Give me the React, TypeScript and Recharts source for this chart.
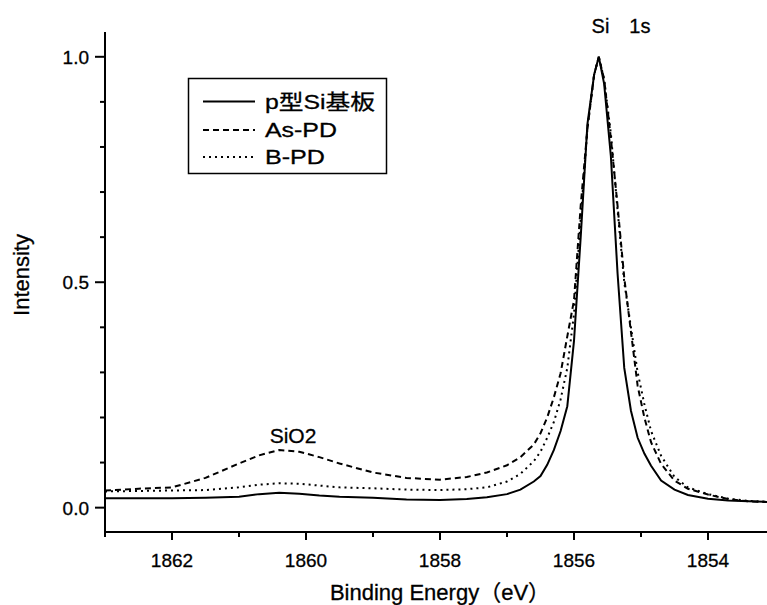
import React from 'react';
import { LineChart, Line, XAxis, YAxis } from 'recharts';

const FONT = "'Liberation Sans', 'Noto Sans CJK JP', sans-serif";

// binding energy grid (eV), high -> low
const energy = [
    1863.0, 1862.5, 1862.0, 1861.5, 1861.0, 1860.7, 1860.4, 1860.1, 1859.8, 1859.5,
    1859.0, 1858.5, 1858.0, 1857.6, 1857.3, 1857.0, 1856.8, 1856.6, 1856.5, 1856.4,
    1856.3, 1856.2, 1856.1, 1856.0, 1855.9, 1855.8, 1855.7, 1855.63, 1855.55, 1855.45,
    1855.35, 1855.25, 1855.15, 1855.05, 1854.95, 1854.85, 1854.7, 1854.5, 1854.3, 1854.0,
    1853.7, 1853.4, 1853.0,
];

const pSi = [
    0.021, 0.021, 0.021, 0.022, 0.024, 0.030, 0.033, 0.031, 0.027, 0.024,
    0.022, 0.018, 0.017, 0.019, 0.023, 0.030, 0.040, 0.058, 0.070, 0.095,
    0.128, 0.170, 0.225, 0.37, 0.60, 0.85, 0.96, 1.0, 0.94, 0.78,
    0.52, 0.31, 0.215, 0.155, 0.12, 0.093, 0.06, 0.04, 0.028, 0.02,
    0.016, 0.014, 0.012,
];

const asPD = [
    0.038, 0.042, 0.045, 0.066, 0.098, 0.116, 0.128, 0.124, 0.112, 0.098,
    0.078, 0.066, 0.062, 0.068, 0.078, 0.094, 0.112, 0.140, 0.165, 0.200,
    0.245, 0.298, 0.38, 0.46, 0.67, 0.84, 0.96, 1.0, 0.95, 0.82,
    0.67, 0.51, 0.39, 0.27, 0.20, 0.145, 0.097, 0.060, 0.042, 0.029,
    0.019, 0.014, 0.012,
];

const bPD = [
    0.036, 0.037, 0.038, 0.039, 0.045, 0.051, 0.054, 0.053, 0.049, 0.045,
    0.043, 0.040, 0.039, 0.041, 0.045, 0.058, 0.075, 0.103, 0.124, 0.155,
    0.19, 0.24, 0.31, 0.43, 0.64, 0.84, 0.96, 1.0, 0.95, 0.83,
    0.66, 0.50, 0.40, 0.30, 0.23, 0.17, 0.115, 0.068, 0.045, 0.030,
    0.020, 0.015, 0.012,
];

const xTicks = [1863, 1862, 1861, 1860, 1859, 1858, 1857, 1856, 1855, 1854, 1853];
const yTicks = [0, 0.1, 0.2, 0.3, 0.4, 0.5, 0.6, 0.7, 0.8, 0.9, 1.0];

const seriesNames = ['p型Si基板', 'As-PD', 'B-PD'];

const data = energy.map((e, i) => ({ e, pSi: pSi[i], asPD: asPD[i], bPD: bPD[i] }));

const XTick = ({ x, y, payload }: any) => {
    const major = payload.value % 2 === 0;
    return (
        <g>
            <line x1={x} x2={x} y1={y} y2={y + (major ? 8 : 5)} stroke="#000" strokeWidth={2} />
            {major && (
                <text x={x} y={y + 35} textAnchor="middle" fontSize={19} fontFamily={FONT} fill="#000" stroke="#000" strokeWidth={0.3}>
                    {payload.value}
                </text>
            )}
        </g>
    );
};

const YTick = ({ x, y, payload }: any) => {
    const v = payload.value;
    const major = Math.abs(v * 2 - Math.round(v * 2)) < 1e-6;
    return (
        <g>
            <line x1={x - (major ? 10 : 5)} x2={x} y1={y} y2={y} stroke="#000" strokeWidth={2} />
            {major && (
                <text x={x - 16} y={y + 7} textAnchor="end" fontSize={19} fontFamily={FONT} fill="#000" stroke="#000" strokeWidth={0.3}>
                    {v.toFixed(1)}
                </text>
            )}
        </g>
    );
};

export default function App() {
    return (
        <div style={{ position: 'absolute', left: 0, top: 0, width: 767, height: 605, overflow: 'hidden', background: '#fff' }}>
            <LineChart
                width={776}
                height={605}
                data={data}
                margin={{ top: 32, right: 1, bottom: 0, left: 0 }}
            >
                <XAxis
                    dataKey="e"
                    type="number"
                    domain={[1853, 1863]}
                    reversed
                    allowDataOverflow
                    ticks={xTicks}
                    interval={0}
                    height={73}
                    tickSize={0}
                    tickMargin={0}
                    tickLine={false}
                    tick={<XTick />}
                    axisLine={{ stroke: '#000', strokeWidth: 2 }}
                />
                <YAxis
                    type="number"
                    domain={[-0.054, 1.055]}
                    allowDataOverflow
                    ticks={yTicks}
                    interval={0}
                    width={105}
                    tickSize={0}
                    tickMargin={0}
                    tickLine={false}
                    tick={<YTick />}
                    axisLine={{ stroke: '#000', strokeWidth: 2 }}
                />
                <Line type="linear" dataKey="pSi" name={seriesNames[0]} stroke="#000" strokeWidth={2} dot={false} isAnimationActive={false} />
                <Line type="linear" dataKey="asPD" name={seriesNames[1]} stroke="#000" strokeWidth={2} strokeDasharray="6 4" dot={false} isAnimationActive={false} />
                <Line type="linear" dataKey="bPD" name={seriesNames[2]} stroke="#000" strokeWidth={2} strokeDasharray="2 4" dot={false} isAnimationActive={false} />
            </LineChart>

            {/* titles, annotations and legend */}
            <svg width={767} height={605} style={{ position: 'absolute', left: 0, top: 0, pointerEvents: 'none' }} fontFamily={FONT} fill="#000" stroke="#000" strokeWidth={0.3}>
                <text x={440} y={600} textAnchor="middle" fontSize={22}>Binding Energy（eV）</text>
                <text transform="translate(29,275) rotate(-90)" textAnchor="middle" fontSize={22}>Intensity</text>
                <text x={621} y={33} textAnchor="middle" fontSize={20}>Si　1s</text>
                <text x={293} y={443} textAnchor="middle" fontSize={21}>SiO2</text>

                <rect x={188.5} y={78.5} width={198} height={95} fill="#fff" stroke="#000" strokeWidth={1.5} />
                <line x1={203} x2={255} y1={101.5} y2={101.5} stroke="#000" strokeWidth={2} />
                <line x1={203} x2={255} y1={130} y2={130} stroke="#000" strokeWidth={2} strokeDasharray="6 4" />
                <line x1={203} x2={255} y1={157} y2={157} stroke="#000" strokeWidth={2} strokeDasharray="2 4" />
                <text x={265} y={109} fontSize={21} textLength={110} lengthAdjust="spacingAndGlyphs">{seriesNames[0]}</text>
                <text x={265} y={137} fontSize={21} textLength={72} lengthAdjust="spacingAndGlyphs">{seriesNames[1]}</text>
                <text x={265} y={164} fontSize={21} textLength={60} lengthAdjust="spacingAndGlyphs">{seriesNames[2]}</text>
            </svg>
        </div>
    );
}
